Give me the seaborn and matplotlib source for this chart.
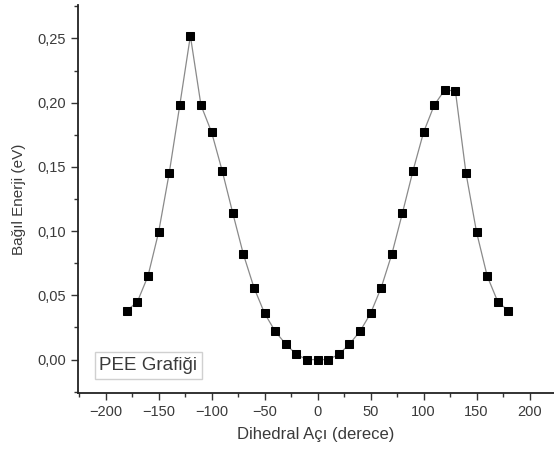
import numpy as np
import pandas as pd
import matplotlib
matplotlib.use("Agg")
import matplotlib.pyplot as plt
import seaborn as sns
from matplotlib.ticker import MultipleLocator, FuncFormatter

# --- data ---
angles = [-180, -170, -160, -150, -140, -130, -120, -110, -100, -90,
          -80, -70, -60, -50, -40, -30, -20, -10, 0, 10,
          20, 30, 40, 50, 60, 70, 80, 90, 100, 110,
          120, 130, 140, 150, 160, 170, 180]
energy = [0.038, 0.045, 0.065, 0.099, 0.145, 0.198, 0.252, 0.198, 0.177, 0.147,
          0.114, 0.082, 0.056, 0.036, 0.022, 0.012, 0.004, 0.0, 0.0, 0.0,
          0.004, 0.012, 0.022, 0.036, 0.056, 0.082, 0.114, 0.147, 0.177, 0.198,
          0.210, 0.209, 0.145, 0.099, 0.065, 0.045, 0.038]
x_ticks = [-200, -150, -100, -50, 0, 50, 100, 150, 200]
y_ticks = [0.00, 0.05, 0.10, 0.15, 0.20, 0.25]

sns.set_theme(style="ticks")
plt.rcParams['font.family'] = ['Liberation Sans', 'DejaVu Sans']
TXT = "#3a3a3a"

df = pd.DataFrame({"angle": angles, "energy": energy})

fig = plt.figure(figsize=(5.54, 4.59), dpi=100)
ax = fig.add_axes([78 / 554, 1 - 393 / 459, 476 / 554, 388 / 459])

sns.lineplot(x="angle", y="energy", data=df, ax=ax, color="#8a8a8a", lw=0.9,
             marker="s", markersize=6.2, markerfacecolor="black",
             markeredgecolor="black")

ax.set_xlim(-226, 223)
ax.set_ylim(-0.026, 0.276)
ax.set_xticks(x_ticks)
ax.set_yticks(y_ticks)
ax.xaxis.set_minor_locator(MultipleLocator(25))
ax.yaxis.set_minor_locator(MultipleLocator(0.025))
ax.yaxis.set_major_formatter(FuncFormatter(lambda v, p: f"{v:.2f}".replace(".", ",")))
ax.tick_params(which="major", direction="out", length=5, width=1, colors="#333333",
               labelcolor=TXT, labelsize=10.5)
ax.tick_params(which="minor", direction="out", length=3, width=1, colors="#333333")
for s in ["top", "right"]:
    ax.spines[s].set_visible(False)
for s in ["left", "bottom"]:
    ax.spines[s].set_color("#222222")
    ax.spines[s].set_linewidth(1.3)

ax.set_xlabel("Dihedral Açı (derece)", color=TXT, fontsize=12, labelpad=6)
ax.set_ylabel("Bağıl Enerji (eV)", color=TXT, fontsize=11, labelpad=8)

ax.text(-206, -0.008, "PEE Grafiği", color=TXT, fontsize=13.5,
        bbox=dict(boxstyle="square,pad=0.25", facecolor="white", edgecolor="#d0d0d0", lw=1))

fig.savefig("out.png", dpi=100)
